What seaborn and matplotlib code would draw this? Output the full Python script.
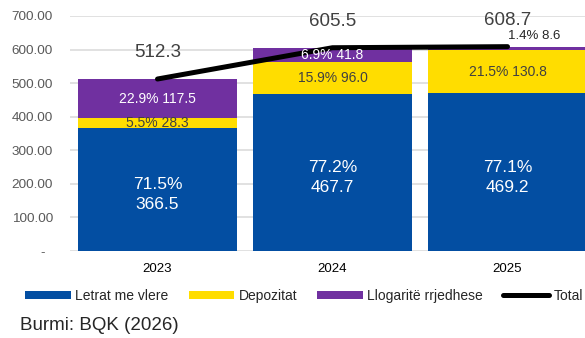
import numpy as np
import pandas as pd
import matplotlib
matplotlib.use("Agg")
import matplotlib.pyplot as plt
from matplotlib.patches import Patch
from matplotlib.lines import Line2D
import seaborn as sns

# Portfolio structure by year (values in million EUR, shares in %)
years = ["2023", "2024", "2025"]
letrat = [366.5, 467.7, 469.2]
depozitat = [28.3, 96.0, 130.8]
llogarite = [117.5, 41.8, 8.6]
totals = [512.3, 605.5, 608.7]
share_letrat = [71.5, 77.2, 77.1]
share_depozitat = [5.5, 15.9, 21.5]
share_llogarite = [22.9, 6.9, 1.4]

series_names = ["Letrat me vlere", "Depozitat", "Llogaritë rrjedhese", "Total"]
y_ticks = [0, 100, 200, 300, 400, 500, 600, 700]

BLUE = "#034EA2"
YELLOW = "#FFDD00"
PURPLE = "#7030A0"
GRID = "#D9D9D9"
DARK = "#404040"

sns.set_theme(style="white")
plt.rcParams["font.family"] = ["Liberation Sans", "DejaVu Sans"]

df = pd.DataFrame({
    "year": years,
    "letrat": letrat,
    "depozitat": depozitat,
    "llogarite": llogarite,
    "total": totals,
})
df["lvl2"] = df["letrat"] + df["depozitat"]
df["lvl3"] = df["lvl2"] + df["llogarite"]

fig = plt.figure(figsize=(5.85, 3.38), dpi=100)
ax = fig.add_axes([70 / 585, 87 / 338, 525 / 585, 235 / 338])

bar_w = 0.91
# Stacked bars drawn as overlapping cumulative heights
sns.barplot(data=df, x="year", y="lvl3", color=PURPLE, width=bar_w,
            saturation=1, edgecolor="none", ax=ax, zorder=2)
sns.barplot(data=df, x="year", y="lvl2", color=YELLOW, width=bar_w,
            saturation=1, edgecolor="none", ax=ax, zorder=2)
sns.barplot(data=df, x="year", y="letrat", color=BLUE, width=bar_w,
            saturation=1, edgecolor="none", ax=ax, zorder=2)

# Total line
sns.pointplot(data=df, x="year", y="total", color="black", markers="",
              linestyles="-", linewidth=3.6, solid_capstyle="round",
              errorbar=None, ax=ax, zorder=4)

ax.set_xlim(-0.5, len(years) - 0.5)
ax.set_ylim(0, 700)
ax.set_yticks(y_ticks)
ax.set_yticklabels(["-  "] + [f"{v:.2f}" for v in y_ticks[1:]])
ax.yaxis.grid(True, color=GRID, linewidth=1.1, zorder=0)
ax.set_axisbelow(True)
for s in ax.spines.values():
    s.set_visible(False)
ax.tick_params(axis="y", length=0, pad=12.2, labelsize=9.7, labelcolor="#595959")
ax.tick_params(axis="x", length=0, pad=9, labelsize=9.5, labelcolor="black")
ax.set_xlabel("")
ax.set_ylabel("")

for i in range(len(years)):
    # Blue segment
    ax.annotate(f"{share_letrat[i]:.1f}%\n{letrat[i]:.1f}",
                xy=(i, letrat[i] / 2), xytext=(0, -3.5),
                textcoords="offset points", ha="center", va="center",
                color="white", fontsize=12.5, linespacing=1.4, zorder=5)
    # Yellow segment
    ax.text(i, letrat[i] + depozitat[i] / 2,
            f"{share_depozitat[i]:.1f}% {depozitat[i]:.1f}",
            ha="center", va="center", color=DARK, fontsize=10, zorder=5)
    # Purple segment
    top2 = letrat[i] + depozitat[i]
    if llogarite[i] >= 20:
        ax.text(i, top2 + llogarite[i] / 2,
                f"{share_llogarite[i]:.1f}% {llogarite[i]:.1f}",
                ha="center", va="center", color="white", fontsize=10, zorder=5)
    else:
        ax.annotate(f"{share_llogarite[i]:.1f}% {llogarite[i]:.1f}",
                    xy=(i, top2 + llogarite[i]), xytext=(0, 8),
                    textcoords="offset points", ha="left", va="center",
                    color="#262626", fontsize=9.5, zorder=5)
    # Total label
    ax.annotate(f"{totals[i]:.1f}", xy=(i, totals[i]), xytext=(0, 19),
                textcoords="offset points", ha="center", va="center",
                color=DARK, fontsize=13.5, zorder=5)

handles = [
    Patch(facecolor=BLUE, edgecolor="none"),
    Patch(facecolor=YELLOW, edgecolor="none"),
    Patch(facecolor=PURPLE, edgecolor="none"),
    Line2D([0], [0], color="black", linewidth=3.6, solid_capstyle="round"),
]
fig.legend(handles, series_names, loc="center", ncol=4,
           bbox_to_anchor=(304 / 585, 1 - 296 / 338), frameon=False,
           fontsize=10, handlelength=3.3, handleheight=0.55,
           handletextpad=0.3, columnspacing=1.45, borderaxespad=0,
           borderpad=0)

fig.text(20 / 585, 1 - 326 / 338, "Burmi: BQK (2026)", ha="left",
         va="center", fontsize=13.5, color="#262626")

fig.savefig("out.png", dpi=100)
